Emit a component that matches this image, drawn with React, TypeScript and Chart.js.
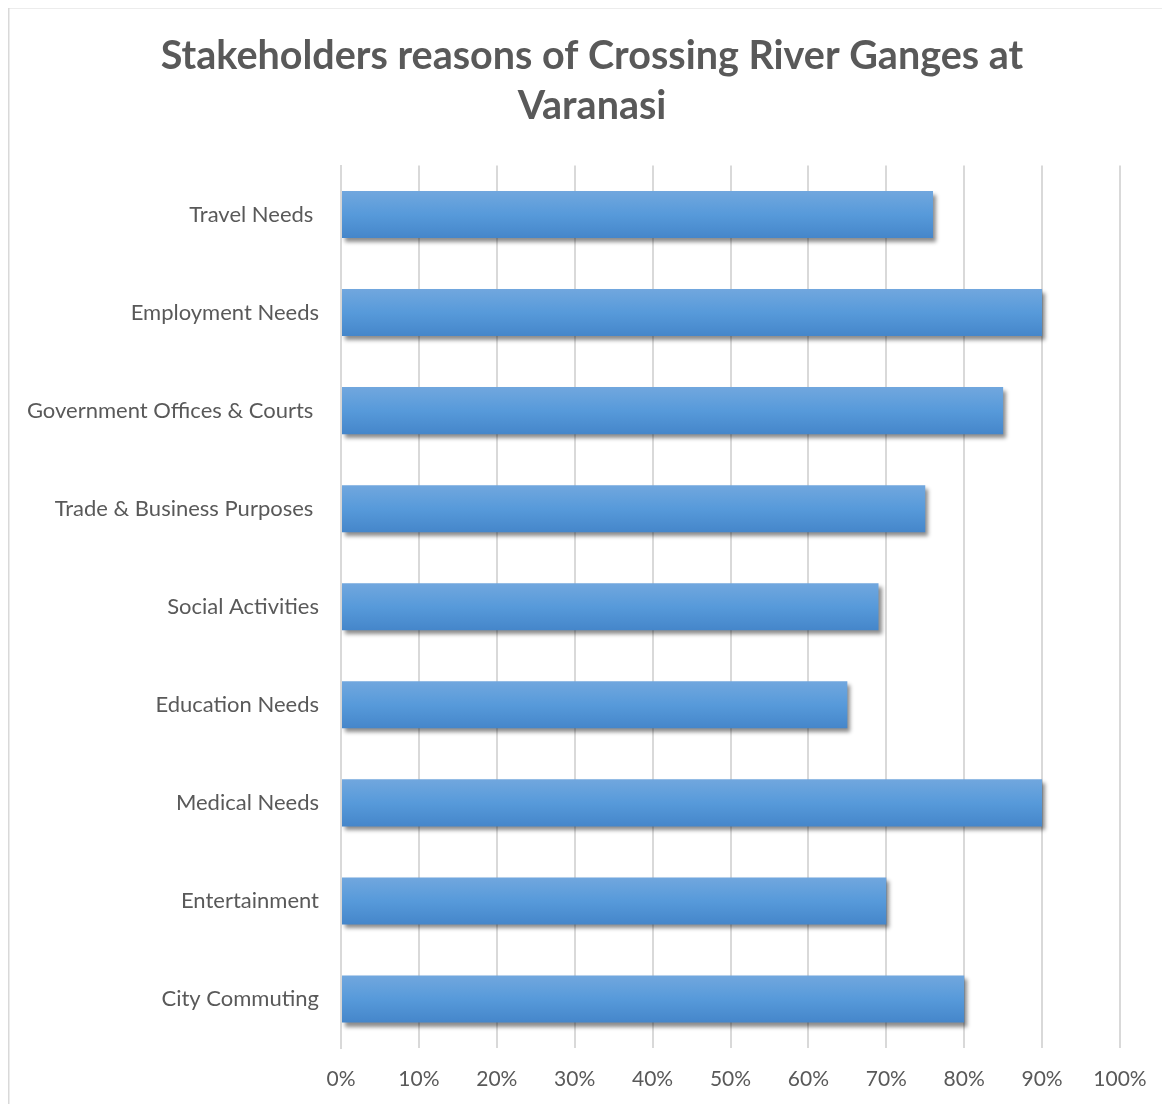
import React, { useEffect, useRef } from "react";
import { Chart, registerables } from "chart.js";

Chart.register(...registerables);

const titleLines = ["Stakeholders reasons of Crossing River Ganges at", "Varanasi"];
const categories = [
  "Travel Needs ",
  "Employment Needs",
  "Government Offices & Courts ",
  "Trade & Business Purposes ",
  "Social Activities",
  "Education Needs",
  "Medical Needs",
  "Entertainment",
  "City Commuting",
];
const values = [0.76, 0.9, 0.85, 0.75, 0.69, 0.65, 0.9, 0.7, 0.8];
const xTicks = [0, 0.1, 0.2, 0.3, 0.4, 0.5, 0.6, 0.7, 0.8, 0.9, 1.0];

const FONT = "Lato";
const TEXT = "#595959";
const BAR_PCT = 0.48;

const frameAndTitlePlugin = {
  id: "frameAndTitle",
  beforeDraw(chart: any) {
    const { ctx } = chart;
    ctx.save();
    ctx.fillStyle = "#ffffff";
    ctx.fillRect(0, 0, chart.width, chart.height);
    ctx.strokeStyle = "#d9d9d9";
    ctx.lineWidth = 1.5;
    ctx.beginPath();
    ctx.moveTo(0.75, chart.height);
    ctx.lineTo(0.75, 0.75);
    ctx.lineTo(chart.width, 0.75);
    ctx.stroke();
    ctx.fillStyle = TEXT;
    ctx.font = `bold 39.5px ${FONT}`;
    ctx.textAlign = "center";
    ctx.textBaseline = "alphabetic";
    const cx = 584;
    ctx.fillText(titleLines[0], cx, 62);
    ctx.fillText(titleLines[1], cx, 112);
    ctx.restore();
  },
};

const shadowPlugin = {
  id: "barShadow",
  beforeDatasetDraw(chart: any) {
    const { ctx } = chart;
    ctx.save();
    ctx.shadowColor = "rgba(0,0,0,0.45)";
    ctx.shadowBlur = 4;
    ctx.shadowOffsetX = 3;
    ctx.shadowOffsetY = 4;
  },
  afterDatasetDraw(chart: any) {
    chart.ctx.restore();
  },
};

function barGradient(c: any) {
  const chart = c.chart;
  const y = chart.scales && chart.scales.y;
  if (!y || c.dataIndex == null) return "#5b9bd5";
  const center = y.getPixelForValue(c.dataIndex);
  const half = ((y.height / categories.length) * BAR_PCT) / 2;
  if (!isFinite(center) || !isFinite(half) || half <= 0) return "#5b9bd5";
  const g = chart.ctx.createLinearGradient(0, center - half, 0, center + half);
  g.addColorStop(0, "#71a7de");
  g.addColorStop(0.5, "#579ada");
  g.addColorStop(1, "#4586ca");
  return g;
}

export default function App() {
  const ref = useRef<HTMLCanvasElement | null>(null);
  useEffect(() => {
    if (!ref.current) return;
    const chart = new Chart(ref.current, {
      type: "bar",
      data: {
        labels: categories,
        datasets: [
          {
            data: values,
            backgroundColor: barGradient as any,
            borderWidth: 0,
            categoryPercentage: 1,
            barPercentage: BAR_PCT,
          },
        ],
      },
      options: {
        indexAxis: "y",
        animation: false,
        responsive: false,
        layout: { padding: { left: 0, right: 50, top: 158.5, bottom: 0 } },
        plugins: {
          legend: { display: false },
          tooltip: { enabled: false },
          title: { display: false },
        },
        scales: {
          x: {
            min: 0,
            max: 1,
            afterBuildTicks(scale: any) {
              scale.ticks = xTicks.map((v) => ({ value: v }));
            },
            afterFit(scale: any) {
              scale.height = 56;
            },
            ticks: {
              color: TEXT,
              font: { family: FONT, size: 21 },
              padding: 19,
              callback: (v: any) => Math.round(Number(v) * 100) + "%",
            },
            grid: { color: "#d9d9d9", lineWidth: 2, drawTicks: false },
            border: { display: false },
          },
          y: {
            afterFit(scale: any) {
              scale.width = 333;
            },
            ticks: {
              color: TEXT,
              font: { family: FONT, size: 22 },
              padding: 22,
            },
            grid: { display: false, drawTicks: false },
            border: { display: true, color: "#d9d9d9", width: 2 },
          },
        },
      },
      plugins: [frameAndTitlePlugin, shadowPlugin],
    });
    return () => chart.destroy();
  }, []);
  return (
    <canvas
      ref={ref}
      width={1162}
      height={1097}
      style={{ display: "block", marginTop: -1 }}
    />
  );
}
